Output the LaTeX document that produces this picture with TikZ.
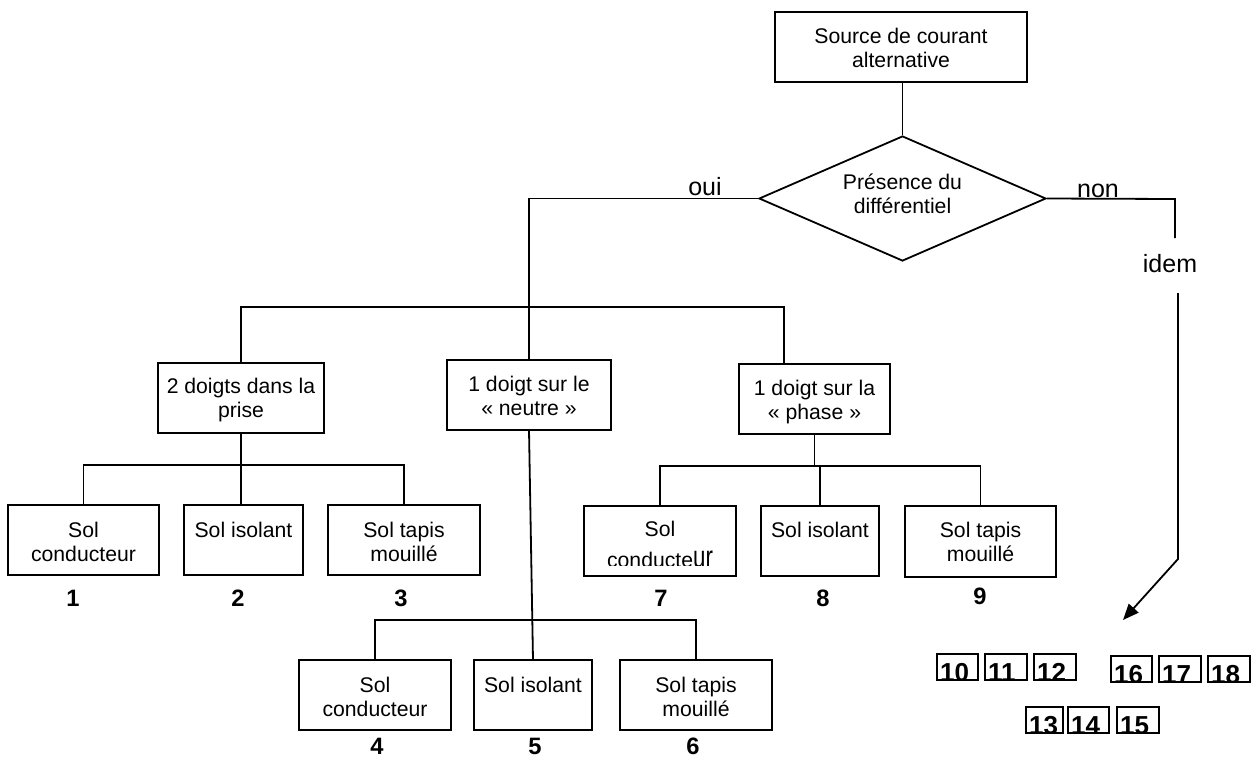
\documentclass[tikz,border=0pt]{standalone}
\usepackage{fontspec}
\setmainfont{Liberation Sans}
\usepackage{graphicx}
\usetikzlibrary{shapes.geometric,arrows.meta}
\newcommand\myBody{\fontsize{21.2}{24}\selectfont}
\newcommand\myLbl{\fontsize{25}{28}\selectfont}
\newcommand\myNum{\fontsize{23.7}{26}\selectfont\bfseries}
\newcommand\myNbx{\fontsize{26}{28}\selectfont\bfseries}
\newcommand\btext[4]{\parbox[t][#2pt][t]{#1pt}{\centering\rule{0pt}{#3pt}#4\par}}
\newcommand\bx[7]{%
  \node[boxst, minimum width=#4pt, minimum height=#5pt] (#1) at (#2,#3) {\btext{#4}{#5}{#6}{#7}};}
\newcommand\nbox[5]{%
  \begin{scope}
    \clip (#2,#3) rectangle ++(#4,26);
    \node[nbt] (#1t) at (#2+3,#3+27) {#5};
  \end{scope}
  \node[nbx, minimum width=#4pt] (#1) at (#2,#3) {};}
\begin{document}
\begin{tikzpicture}[x=1pt,y=-1pt,
  ln/.style={line width=1.8pt},
  boxst/.style={draw, line width=1.8pt, inner sep=0pt, outer sep=0pt, anchor=north west, font=\myBody},
  lbl/.style={font=\myLbl, inner sep=0pt, anchor=base},
  num/.style={font=\myNum, inner sep=0pt, anchor=base},
  nbt/.style={font=\myNbx, inner sep=0pt, anchor=base west},
  nbx/.style={draw, line width=1.8pt, inner sep=0pt, outer sep=0pt, minimum height=26pt, anchor=north west},
]
\useasboundingbox (0,0) rectangle (1253,758);

% main boxes
\bx{src}{775}{12}{252}{70}{31}{Source de courant\\alternative}
\node[draw, line width=1.8pt, diamond, aspect=2.3, minimum width=287pt, minimum height=125pt, inner sep=0pt] (dia) at (902.5,198.5) {};
\node[font=\myBody, align=center, inner sep=0pt] (diat) at (902.5,194) {Présence du\\différentiel};

\bx{prise}{158}{363}{166}{70}{30}{2 doigts dans la\\prise}
\bx{neutre}{447}{360}{164}{70}{31}{1 doigt sur le\\« neutre »}
\bx{phase}{739}{364}{151}{70}{31}{1 doigt sur la\\« phase »}

\bx{c1}{8}{505}{151}{70}{32}{Sol\\conducteur}
\bx{c2}{184}{505}{119}{70}{32}{Sol isolant}
\bx{c3}{328}{505}{152}{70}{32}{Sol tapis\\mouillé}

\bx{c7}{584}{506}{152}{70}{30}{Sol}
\begin{scope}
  \clip (584,506) rectangle (736,565);
  \node[font=\myBody, inner sep=0pt, anchor=base] (c7b) at (660,567) {conducte\scalebox{1.05}[1.45]{ur}};
\end{scope}
\bx{c8}{761}{506}{118}{70}{31}{Sol isolant}
\bx{c9}{905}{506}{151}{71}{31}{Sol tapis\\mouillé}

\bx{c4}{299}{660}{152}{70}{32}{Sol\\conducteur}
\bx{c5}{474}{660}{118}{70}{32}{Sol isolant}
\bx{c6}{620}{660}{152}{70}{32}{Sol tapis\\mouillé}

% numbers
\node[num] (n1) at (73,606) {1};
\node[num] (n2) at (238,606) {2};
\node[num] (n3) at (401,606) {3};
\node[num] (n7) at (661,606) {7};
\node[num] (n8) at (823,606) {8};
\node[num] (n9) at (980,604) {9};
\node[num] (n4) at (377,754) {4};
\node[num] (n5) at (535,754) {5};
\node[num] (n6) at (693,754) {6};

% labels
\node[lbl] (oui) at (705,195) {oui};
\node[lbl] (non) at (1098,197) {non};
\node[lbl] (idem) at (1170,272) {idem};

% connectors
\draw[ln] (dia.north) -- (dia.north |- src.south);
\draw[ln] (dia.west) -| (neutre.north);
\coordinate (t1) at (529,307);
\coordinate (pa) at (784,307);
\draw[ln] (prise.north) |- (t1) -- (pa) -- (pa |- phase.north);

\coordinate (j1) at (241,465);
\draw[ln] (prise.south) -- (prise.south |- c2.north);
\draw[ln] (c1.north) -- (c1.north |- j1) -- (c3.north |- j1) -- (c3.north);

\coordinate (j3) at (817,466);
\draw[ln] (phase.south) -- (phase.south |- j3);
\draw[ln] (c7.north) -- (c7.north |- j3) -- (c9.north |- j3) -- (c9.north);
\draw[ln] (c8.north) -- (c8.north |- j3);

\coordinate (j2) at (532,620);
\draw[ln] (neutre.south) -- (c5.north);
\draw[ln] (c4.north) -- (c4.north |- j2) -- (c6.north |- j2) -- (c6.north);

\coordinate (nE) at (1175,199);
\coordinate (nE2) at (1175,238);
\draw[ln] (dia.east) -- (nE) -- (nE2);
\coordinate (aT) at (1178,293);
\coordinate (aL) at (1178,559);
\coordinate (tip) at (1123,620);
\draw[ln, -{Triangle[length=16pt,width=13pt]}] (aT) -- (aL) -- (tip);

% numbered boxes
\nbox{b10}{937}{654}{41}{10}
\nbox{b11}{985}{654}{42}{11}
\nbox{b12}{1034}{654}{42}{12}
\nbox{b16}{1111}{656}{41}{16}
\nbox{b17}{1159}{656}{42}{17}
\nbox{b18}{1208}{656}{42}{18}
\nbox{b13}{1026}{707}{37}{13}
\nbox{b14}{1068}{707}{41}{14}
\nbox{b15}{1117}{707}{42}{15}
\end{tikzpicture}
\end{document}
